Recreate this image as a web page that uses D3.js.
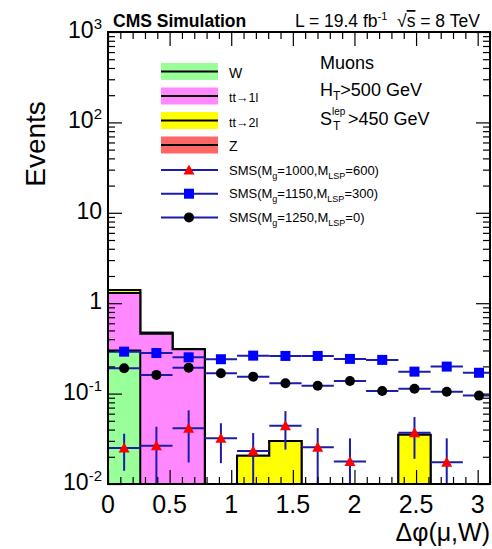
<!DOCTYPE html>
<html><head><meta charset="utf-8">
<script src="https://cdn.jsdelivr.net/npm/d3@7"></script>
<style>body{margin:0;background:#fff} text{font-family:"Liberation Sans",Arial,Helvetica,sans-serif;fill:#000}</style>
</head><body><svg id="c" width="492" height="549"></svg>
<script>
// ---- data ----
const nBins = 12;
const xLow = 0, xHigh = Math.PI;
const wJets    = [0.30, 0, 0, 0, 0, 0, 0, 0, 0, 0, 0, 0];
const ttOneLep = [1.00, 0.46, 0.31, 0, 0, 0, 0, 0, 0, 0, 0, 0];
const ttTwoLep = [0.10, 0.012, 0, 0, 0.0206, 0.0299, 0, 0, 0, 0.035, 0, 0];
const zJets    = [0, 0, 0, 0, 0, 0, 0, 0, 0, 0, 0, 0];
const sms1000  = [0.025, 0.0265, 0.0413, 0.032, 0.0232, 0.044, 0.0255, 0.0177, 0, 0.037, 0.0174, 0];
const sms1000E = [0.011, 0.0165, 0.024, 0.015, 0.0134, 0.020, 0.016, 0.0143, 0, 0.018, 0.0146, 0];
const sms1150  = [0.291, 0.281, 0.252, 0.240, 0.263, 0.261, 0.261, 0.242, 0.236, 0.175, 0.199, 0.170];
const sms1250  = [0.191, 0.161, 0.193, 0.168, 0.154, 0.130, 0.122, 0.138, 0.107, 0.113, 0.105, 0.095];
const xTicks = [0, 0.5, 1, 1.5, 2, 2.5, 3];
const yDecades = [0.01, 0.1, 1, 10, 100, 1000];
const yExp = ["-2", "-1", "", "", "2", "3"];

// ---- layout ----
const L = 108, R = 490, T = 32, B = 484;
const svg = d3.select("#c");
const x = d3.scaleLinear().domain([0, 3.1]).range([L, R]);
const y = d3.scaleLog().domain([0.01, 1000]).range([B, T]).clamp(true);
const bw = (xHigh - xLow) / nBins;
const edges = d3.range(nBins + 1).map(i => xLow + i * bw);

svg.append("defs").append("clipPath").attr("id", "pc")
  .append("rect").attr("x", L).attr("y", T).attr("width", R - L).attr("height", B - T);
const plot = svg.append("g").attr("clip-path", "url(#pc)");

// stacked histograms
const cumW = wJets.slice();
const cum1 = cumW.map((v, i) => v + ttOneLep[i]);
const cum2 = cum1.map((v, i) => v + ttTwoLep[i]);
const cumZ = cum2.map((v, i) => v + zJets[i]);
const yv = v => v > 0 ? y(v) : B + 3;
function stepPath(vals) {
  let p = `M${x(edges[0])},${B + 3}`;
  vals.forEach((v, i) => { p += `L${x(edges[i])},${yv(v)}L${x(edges[i + 1])},${yv(v)}`; });
  p += `L${x(edges[nBins])},${B + 3}Z`;
  return p;
}
[[cumZ, "#ff6666"], [cum2, "#ffff00"], [cum1, "#ff88ff"], [cumW, "#99ff99"]].forEach(([vals, col]) => {
  plot.append("path").attr("d", stepPath(vals)).attr("fill", col)
    .attr("stroke", "#000").attr("stroke-width", 2).attr("stroke-linejoin", "miter");
});

// signal points
const lineCol = "#1c1ca8";
function drawSeries(vals, errs, shape) {
  const g = plot.append("g");
  vals.forEach((v, i) => {
    if (!(v > 0)) return;
    const cx = x((edges[i] + edges[i + 1]) / 2), cy = y(v);
    g.append("line").attr("x1", x(edges[i])).attr("x2", x(edges[i + 1])).attr("y1", cy).attr("y2", cy)
      .attr("stroke", lineCol).attr("stroke-width", 2);
    if (errs) {
      const e = errs[i];
      g.append("line").attr("x1", cx).attr("x2", cx).attr("y1", yv(v + e)).attr("y2", v - e > 0 ? y(v - e) : B + 3)
        .attr("stroke", lineCol).attr("stroke-width", 2);
    }
    marker(g, cx, cy, shape);
  });
}
function marker(g, cx, cy, shape) {
  if (shape === "tri") {
    g.append("path").attr("d", `M${cx - 5.5},${cy + 4.5}L${cx + 5.5},${cy + 4.5}L${cx},${cy - 5.5}Z`).attr("fill", "#ff0000");
  } else if (shape === "sq") {
    g.append("rect").attr("x", cx - 5).attr("y", cy - 5).attr("width", 10).attr("height", 10).attr("fill", "#0000ff");
  } else {
    g.append("circle").attr("cx", cx).attr("cy", cy).attr("r", 5).attr("fill", "#000");
  }
}
drawSeries(sms1150, null, "sq");
drawSeries(sms1250, null, "circ");
drawSeries(sms1000, sms1000E, "tri");

// axes
const minorX = d3.range(0, 3.11, 0.1).filter(v => Math.abs(v * 2 - Math.round(v * 2)) > 1e-6);
const minorY = [];
for (let d = -2; d < 3; d++) for (let k = 2; k <= 9; k++) minorY.push(k * Math.pow(10, d));
function axisStyle(g) {
  g.select(".domain").remove();
  g.selectAll("line").attr("stroke", "#000").attr("stroke-width", 1.2);
  g.selectAll("text").remove();
}
svg.append("g").attr("transform", `translate(0,${B})`).call(d3.axisBottom(x).tickValues(xTicks).tickSize(-14)).call(axisStyle);
svg.append("g").attr("transform", `translate(0,${B})`).call(d3.axisBottom(x).tickValues(minorX).tickSize(-7)).call(axisStyle);
svg.append("g").attr("transform", `translate(0,${T})`).call(d3.axisTop(x).tickValues(xTicks).tickSize(-14)).call(axisStyle);
svg.append("g").attr("transform", `translate(0,${T})`).call(d3.axisTop(x).tickValues(minorX).tickSize(-7)).call(axisStyle);
svg.append("g").attr("transform", `translate(${L},0)`).call(d3.axisLeft(y).tickValues(yDecades).tickSize(-14)).call(axisStyle);
svg.append("g").attr("transform", `translate(${L},0)`).call(d3.axisLeft(y).tickValues(minorY).tickSize(-7)).call(axisStyle);
svg.append("g").attr("transform", `translate(${R},0)`).call(d3.axisRight(y).tickValues(yDecades).tickSize(-14)).call(axisStyle);
svg.append("g").attr("transform", `translate(${R},0)`).call(d3.axisRight(y).tickValues(minorY).tickSize(-7)).call(axisStyle);
svg.append("rect").attr("x", L).attr("y", T).attr("width", R - L).attr("height", B - T)
  .attr("fill", "none").attr("stroke", "#000").attr("stroke-width", 2);

// tick labels
xTicks.forEach(v => {
  svg.append("text").attr("x", x(v)).attr("y", 513).attr("text-anchor", "middle")
    .attr("font-size", 25).text(String(v));
});
yDecades.forEach((v, i) => {
  const t = svg.append("text").attr("x", 102).attr("y", y(v) + 6).attr("text-anchor", "end").attr("font-size", 23);
  if (v === 1) { t.text("1"); return; }
  t.append("tspan").text("10");
  if (yExp[i]) t.append("tspan").attr("font-size", 15).attr("dy", -9).text(yExp[i]);
});

// axis titles
svg.append("text").attr("transform", "translate(45,144) rotate(-90)").attr("text-anchor", "middle")
  .attr("font-size", 28).text("Events");
svg.append("text").attr("x", 490).attr("y", 541).attr("text-anchor", "end").attr("font-size", 25).text("Δφ(μ,W)");

// header
svg.append("text").attr("x", 113).attr("y", 27).attr("font-size", 17.5).attr("font-weight", "bold").text("CMS Simulation");
const hd = svg.append("text").attr("x", 295).attr("y", 27).attr("font-size", 17.5);
hd.append("tspan").text("L = 19.4 fb");
hd.append("tspan").attr("font-size", 11).attr("dy", -7).text("-1");
hd.append("tspan").attr("dy", 7).text("\u00a0\u00a0√");
hd.append("tspan").attr("text-decoration", "overline").text("s");
hd.append("tspan").text(" = 8 TeV");

// selection text (one text block, three lines)
const sel = svg.append("text").attr("x", 320).attr("y", 69).attr("font-size", 18);
sel.append("tspan").text("Muons");
sel.append("tspan").attr("x", 320).attr("y", 96).text("H");
sel.append("tspan").attr("font-size", 12).attr("dy", 4).text("T");
sel.append("tspan").attr("dy", -4).text(">500 GeV");
sel.append("tspan").attr("x", 320).attr("y", 125).text("S");
sel.append("tspan").attr("x", 332).attr("y", 114.5).attr("font-size", 10).text("lep");
sel.append("tspan").attr("x", 333).attr("y", 130).attr("font-size", 12).text("T");
sel.append("tspan").attr("x", 348).attr("y", 125).text(">450 GeV");

// legend
const legFills = [["W", "#99ff99"], ["tt→1l", "#ff88ff"], ["tt→2l", "#ffff00"], ["Z", "#ff6666"]];
legFills.forEach(([lab, col], i) => {
  const yc = 71.5 + i * 24.5;
  svg.append("rect").attr("x", 161).attr("y", yc - 8.5).attr("width", 57).attr("height", 17).attr("fill", col);
  svg.append("line").attr("x1", 161).attr("x2", 218).attr("y1", yc).attr("y2", yc).attr("stroke", "#000").attr("stroke-width", 2);
  svg.append("text").attr("x", 229).attr("y", yc + 6).attr("font-size", lab.length > 1 ? 12.5 : 14).text(lab);
});
const legSig = [["1000", "600", "tri"], ["1150", "300", "sq"], ["1250", "0", "circ"]];
legSig.forEach(([mg, ml, shp], i) => {
  const yc = 170 + i * 23.7;
  const g = svg.append("g");
  g.append("line").attr("x1", 161).attr("x2", 218).attr("y1", yc).attr("y2", yc).attr("stroke", lineCol).attr("stroke-width", 2);
  marker(g, 189, yc, shp);
  const t = svg.append("text").attr("x", 229).attr("y", yc + 4.5).attr("font-size", 13);
  t.append("tspan").text("SMS(M");
  t.append("tspan").attr("font-size", 9).attr("dy", 4).text("g");
  t.append("tspan").attr("dy", -4).text("=" + mg + ",M");
  t.append("tspan").attr("font-size", 9).attr("dy", 4).text("LSP");
  t.append("tspan").attr("dy", -4).text("=" + ml + ")");
});
</script></body></html>
